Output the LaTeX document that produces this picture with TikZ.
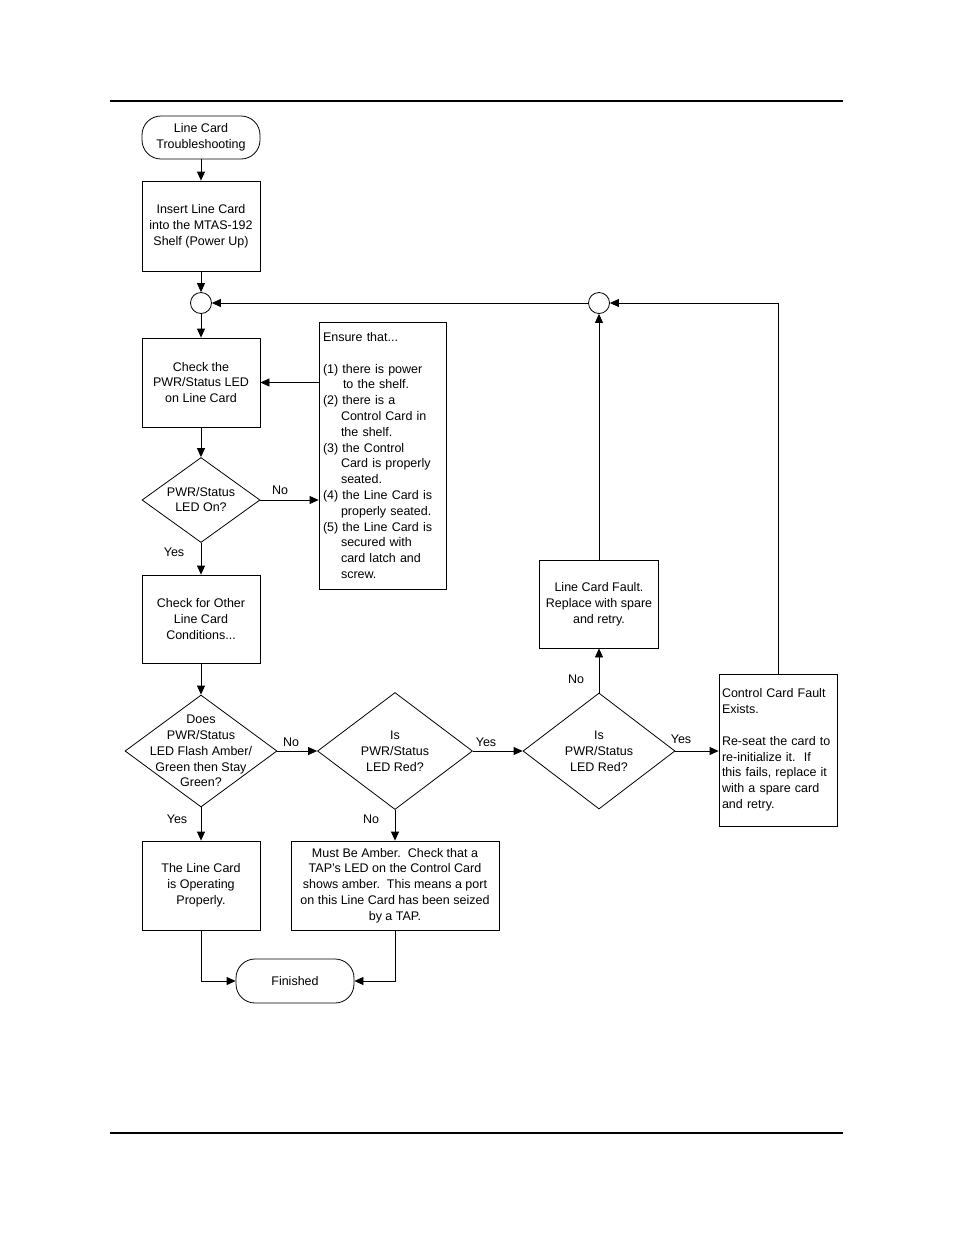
\documentclass[tikz,border=0pt]{standalone}
\usepackage{fontspec}
\setmainfont{Liberation Sans}
\usetikzlibrary{shapes.geometric,arrows.meta}
\begin{document}
\begin{tikzpicture}[x=1pt,y=-1pt,
  every node/.style={font=\fontsize{12.5}{15.8}\selectfont},
  arr/.style={line width=0.8pt,-{Triangle[length=9pt,width=8pt]}},
  ln/.style={line width=0.8pt},
  proc/.style={draw,line width=0.8pt,rectangle,inner sep=0pt,align=center},
  term/.style={draw,line width=0.8pt,rectangle,rounded corners=19pt,inner sep=0pt,align=center,minimum width=118pt,minimum height=43pt},
  dec/.style={draw,line width=0.8pt,diamond,inner sep=0pt},
  dtext/.style={inner sep=0pt,align=center},
  conn/.style={draw,line width=0.8pt,circle,inner sep=0pt,minimum size=21pt},
  lbl/.style={inner sep=0pt}
]
\useasboundingbox (0,0) rectangle (954,1235);
\coordinate (r1a) at (110,101); \coordinate (r1b) at (843,101);
\coordinate (r2a) at (110,1133); \coordinate (r2b) at (843,1133);
\draw[line width=2pt] (r1a) -- (r1b);
\draw[line width=2pt] (r2a) -- (r2b);

\node[term] (start) at (201,137.5) {Line Card\\Troubleshooting};
\node[proc,minimum width=118pt,minimum height=90pt] (b1) at (201,226) {Insert Line Card\\into the MTAS-192\\Shelf (Power Up)};
\node[conn] (c1) at (201,303) {};
\node[conn] (c2) at (599,303) {};
\node[proc,minimum width=118pt,minimum height=89pt] (b2) at (201,382.5) {Check the\\PWR/Status LED\\on Line Card};
\node[draw,line width=0.8pt,rectangle,inner sep=3.5pt,text width=119pt,align=left,minimum width=127pt,minimum height=267pt] (ens) at (382.5,455.5) {Ensure that...\\[15.8pt]
(1) there is power\\\hspace*{20pt}to the shelf.\\
(2) there is a\\\hspace*{18pt}Control Card in\\\hspace*{18pt}the shelf.\\
(3) the Control\\\hspace*{18pt}Card is properly\\\hspace*{18pt}seated.\\
(4) the Line Card is\\\hspace*{18pt}properly seated.\\
(5) the Line Card is\\\hspace*{18pt}secured with\\\hspace*{18pt}card latch and\\\hspace*{18pt}screw.};

\node[dec,minimum width=118pt,minimum height=85pt] (d1) at (201,500) {};
\node[dtext] (d1t) at (201,499.5) {PWR/Status\\LED On?};
\node[proc,minimum width=118pt,minimum height=88pt] (b3) at (201,619) {Check for Other\\Line Card\\Conditions...};

\node[dec,minimum width=152pt,minimum height=112pt] (d2) at (201,751) {};
\node[dtext] (d2t) at (201,751) {Does\\PWR/Status\\LED Flash Amber/\\Green then Stay\\Green?};
\node[dec,minimum width=155pt,minimum height=117pt] (d3) at (395,751) {};
\node[dtext] (d3t) at (395,751) {Is\\PWR/Status\\LED Red?};
\node[dec,minimum width=152pt,minimum height=116pt] (d4) at (599,751) {};
\node[dtext] (d4t) at (599,751) {Is\\PWR/Status\\LED Red?};

\node[proc,minimum width=119pt,minimum height=88pt] (lcf) at (599,604) {Line Card Fault.\\Replace with spare\\and retry.};
\node[draw,line width=0.8pt,rectangle,inner sep=3pt,text width=112pt,align=left,minimum width=118pt,minimum height=152pt] (ctrl) at (778,750) {Control Card Fault\\Exists.\\[15.8pt]Re-seat the card to\\re-initialize it.\ \ If\\this fails, replace it\\with a spare card\\and retry.};

\node[proc,minimum width=118pt,minimum height=89pt] (b4) at (201,885.5) {The Line Card\\is Operating\\Properly.};
\node[proc,minimum width=208pt,minimum height=89pt] (b5) at (395,885.5) {Must Be Amber.\ \ Check that a\\TAP's LED on the Control Card\\shows amber.\ \ This means a port\\on this Line Card has been seized\\by a TAP.};
\node[term,minimum height=44pt] (fin) at (295,981) {Finished};

\node[lbl] at (280,490) {No};
\node[lbl] at (174,552) {Yes};
\node[lbl] at (291,742) {No};
\node[lbl] at (486,742) {Yes};
\node[lbl] at (681,739) {Yes};
\node[lbl] at (576,679) {No};
\node[lbl] at (177,819) {Yes};
\node[lbl] at (371,819) {No};

\draw[arr] (start.south) -- (b1.north);
\draw[arr] (b1.south) -- (c1.north);
\draw[arr] (c1.south) -- (b2.north);
\draw[arr] (ens.west |- b2.east) -- (b2.east);
\draw[arr] (b2.south) -- (d1.north);
\draw[arr] (d1.east) -- (d1.east -| ens.west);
\draw[arr] (d1.south) -- (b3.north);
\draw[arr] (b3.south) -- (d2.north);
\draw[arr] (d2.east) -- (d3.west);
\draw[arr] (d2.south) -- (b4.north);
\draw[arr] (d3.south) -- (b5.north);
\draw[arr] (d3.east) -- (d4.west);
\draw[arr] (d4.north) -- (lcf.south);
\draw[arr] (lcf.north) -- (c2.south);
\draw[arr] (d4.east) -- (d4.east -| ctrl.west);
\draw[arr] (ctrl.north) |- (c2.east);
\draw[arr] (c2.west) -- (c1.east);
\draw[arr] (b4.south) |- (fin.west);
\draw[arr] (b5.south) |- (fin.east);
\end{tikzpicture}
\end{document}
